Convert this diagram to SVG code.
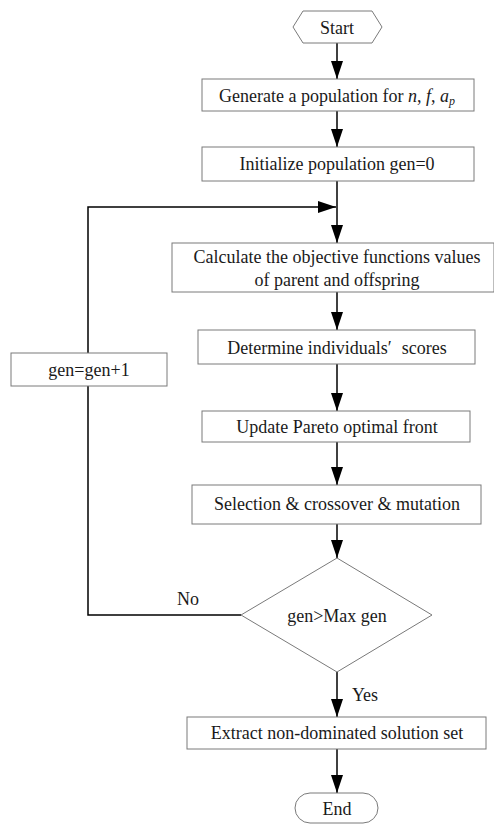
<svg xmlns="http://www.w3.org/2000/svg" width="494" height="824" viewBox="0 0 494 824">
<style>
.box{fill:#fff;stroke:#7a7a7a;stroke-width:1}
.ln{fill:none;stroke:#000;stroke-width:1.5}
text{font-family:"Liberation Serif","Times New Roman",serif;font-size:18px;fill:#1a1a1a;text-anchor:middle}
</style>
<defs>
<marker id="ah" markerWidth="18" markerHeight="12" refX="18" refY="6" orient="auto" markerUnits="userSpaceOnUse">
<path d="M0,0 L18,6 L0,12 Z" fill="#000"/>
</marker>
</defs>
<rect width="494" height="824" fill="#fff"/>
<g id="connectors">
<line class="ln" x1="337" y1="43" x2="337" y2="79" marker-end="url(#ah)"/>
<line class="ln" x1="337" y1="111" x2="337" y2="147" marker-end="url(#ah)"/>
<line class="ln" x1="337" y1="181" x2="337" y2="243" marker-end="url(#ah)"/>
<line class="ln" x1="337" y1="292" x2="337" y2="330" marker-end="url(#ah)"/>
<line class="ln" x1="337" y1="364" x2="337" y2="411" marker-end="url(#ah)"/>
<line class="ln" x1="337" y1="442" x2="337" y2="485" marker-end="url(#ah)"/>
<line class="ln" x1="337" y1="524" x2="337" y2="558" marker-end="url(#ah)"/>
<line class="ln" x1="337" y1="672" x2="337" y2="717" marker-end="url(#ah)"/>
<line class="ln" x1="337" y1="749" x2="337" y2="793" marker-end="url(#ah)"/>
<polyline class="ln" points="241,615 88,615 88,386"/>
<polyline class="ln" points="88,353 88,207 336,207" marker-end="url(#ah)"/>
<text x="188" y="605">No</text>
<text x="365" y="701">Yes</text>
</g>
<g id="start">
<polygon class="box" points="293,27 303,11 372,11 382,27 372,43 303,43"/>
<text x="337" y="34">Start</text>
</g>
<g id="generate">
<rect class="box" x="202" y="79" width="272" height="32"/>
<text x="337" y="102">Generate  a population for <tspan font-style="italic">n</tspan>, <tspan font-style="italic">f</tspan>, <tspan font-style="italic">a</tspan><tspan font-style="italic" font-size="12" dy="3">p</tspan></text>
</g>
<g id="init">
<rect class="box" x="202" y="147" width="272" height="34"/>
<text x="337" y="170">Initialize population gen=0</text>
</g>
<g id="calc">
<rect class="box" x="172" y="243" width="322" height="49"/>
<text x="337" y="263">Calculate the objective functions values</text>
<text x="337" y="286">of parent and offspring</text>
</g>
<g id="determine">
<rect class="box" x="198" y="330" width="277" height="34"/>
<text x="337" y="354">Determine individuals′<tspan dx="10">scores</tspan></text>
</g>
<g id="incr">
<rect class="box" x="11" y="353" width="156" height="33"/>
<text x="89" y="376">gen=gen+1</text>
</g>
<g id="update">
<rect class="box" x="202" y="411" width="268" height="31"/>
<text x="337" y="433">Update Pareto optimal front</text>
</g>
<g id="selection">
<rect class="box" x="192" y="485" width="289" height="39"/>
<text x="337" y="510">Selection &amp; crossover &amp; mutation</text>
</g>
<g id="decision">
<polygon class="box" points="337,558 432,615 337,672 241,615"/>
<text x="337" y="622">gen&gt;Max gen</text>
</g>
<g id="extract">
<rect class="box" x="187" y="717" width="299" height="32"/>
<text x="337" y="739">Extract non-dominated solution set</text>
</g>
<g id="end">
<rect class="box" x="295" y="793" width="83" height="30" rx="15" ry="15"/>
<text x="337" y="815">End</text>
</g>
</svg>
